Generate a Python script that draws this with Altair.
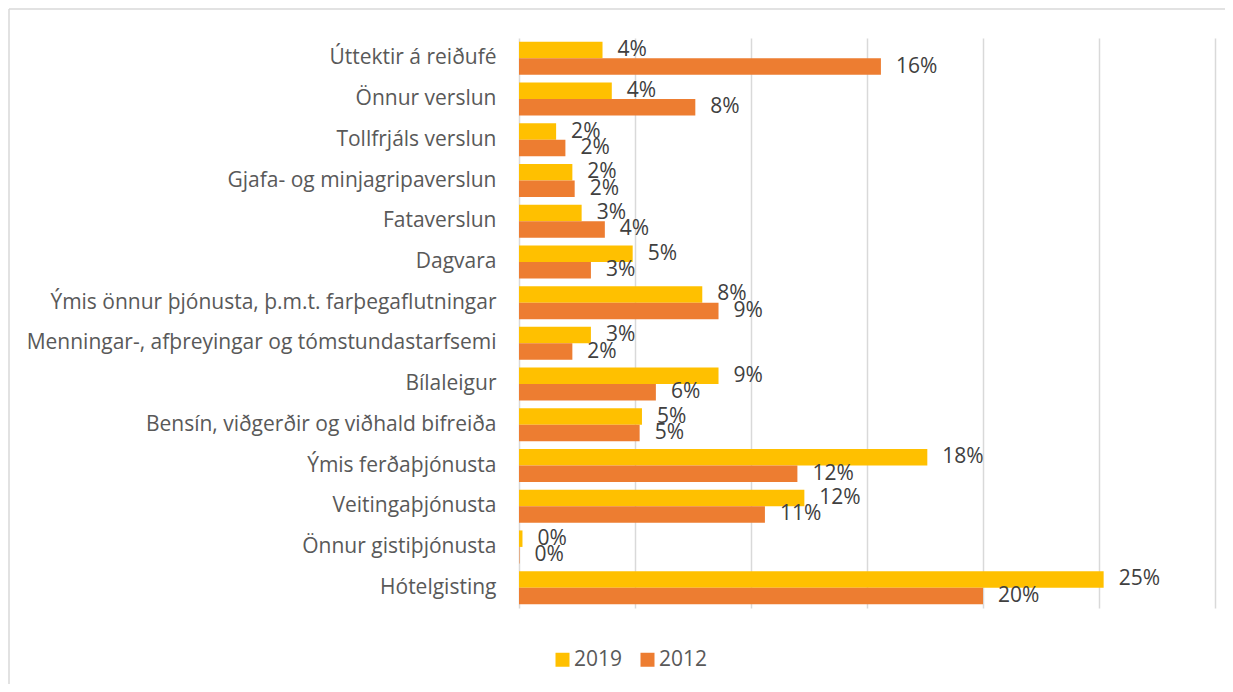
import altair as alt
import pandas as pd

categories = [
    "Úttektir á reiðufé",
    "Önnur verslun",
    "Tollfrjáls verslun",
    "Gjafa- og minjagripaverslun",
    "Fataverslun",
    "Dagvara",
    "Ýmis önnur þjónusta, þ.m.t. farþegaflutningar",
    "Menningar-, afþreyingar og tómstundastarfsemi",
    "Bílaleigur",
    "Bensín, viðgerðir og viðhald bifreiða",
    "Ýmis ferðaþjónusta",
    "Veitingaþjónusta",
    "Önnur gistiþjónusta",
    "Hótelgisting",
]
values_2019 = [3.6, 4.0, 1.6, 2.3, 2.7, 4.9, 7.9, 3.1, 8.6, 5.3, 17.6, 12.3, 0.15, 25.2]
values_2012 = [15.6, 7.6, 2.0, 2.4, 3.7, 3.1, 8.6, 2.3, 5.9, 5.2, 12.0, 10.6, 0.02, 20.0]
series = ["2019", "2012"]
colors = ["#FFC000", "#ED7D31"]
x_ticks = [0, 5, 10, 15, 20, 25, 30]

rows = []
for c, a, b in zip(categories, values_2019, values_2012):
    rows.append({"cat": c, "series": "2019", "value": a})
    rows.append({"cat": c, "series": "2012", "value": b})
df = pd.DataFrame(rows)

FONT = "Open Sans"

x_axis = alt.Axis(values=x_ticks, labels=False, ticks=False, domain=False,
                  grid=True, gridColor="#D9D9D9", gridWidth=1.5)

base = alt.Chart(df).encode(
    y=alt.Y("cat:N", sort=categories, title=None,
            scale=alt.Scale(paddingInner=0.19, paddingOuter=0.095),
            axis=alt.Axis(domain=False, ticks=False, labelPadding=23,
                          labelFontSize=21, labelColor="#595959", labelFont=FONT,
                          labelLimit=520)),
    yOffset=alt.YOffset("series:N", sort=series),
    x=alt.X("value:Q", title=None,
            scale=alt.Scale(domain=[0, 30], nice=False),
            axis=x_axis),
)

bars = base.mark_bar().encode(
    color=alt.Color("series:N", scale=alt.Scale(domain=series, range=colors),
                    legend=alt.Legend(title=None, orient="none", direction="horizontal",
                                      legendX=33, legendY=611, symbolType="square",
                                      symbolSize=196, symbolStrokeWidth=0,
                                      labelFontSize=21, labelColor="#595959",
                                      labelFont=FONT, columnPadding=14, labelOffset=1)),
)

labels = base.mark_text(align="left", baseline="middle", dx=15, fontSize=21,
                        font=FONT, color="#404040").encode(
    text=alt.Text("label:N"),
).transform_calculate(label="format(datum.value, '.0f') + '%'")

frame_df = pd.DataFrame({"a": [0]})
left_border = alt.Chart(frame_df).mark_rule(color="#D9D9D9", strokeWidth=1.5).encode(
    x=alt.value(-510), y=alt.value(-29), y2=alt.value(700))
top_border = alt.Chart(frame_df).mark_rule(color="#D9D9D9", strokeWidth=1.5).encode(
    y=alt.value(-29), x=alt.value(-510), x2=alt.value(900))

chart = alt.layer(bars, labels, left_border, top_border).properties(
    width=696, height=570,
    background="white",
    autosize=alt.AutoSizeParams(type="none"),
    padding={"left": 511, "top": 30, "right": 10, "bottom": 76},
).configure_view(strokeWidth=0).configure_axisX(domain=False)

chart.save("out.html", embed_options={"renderer": "svg", "actions": False})
